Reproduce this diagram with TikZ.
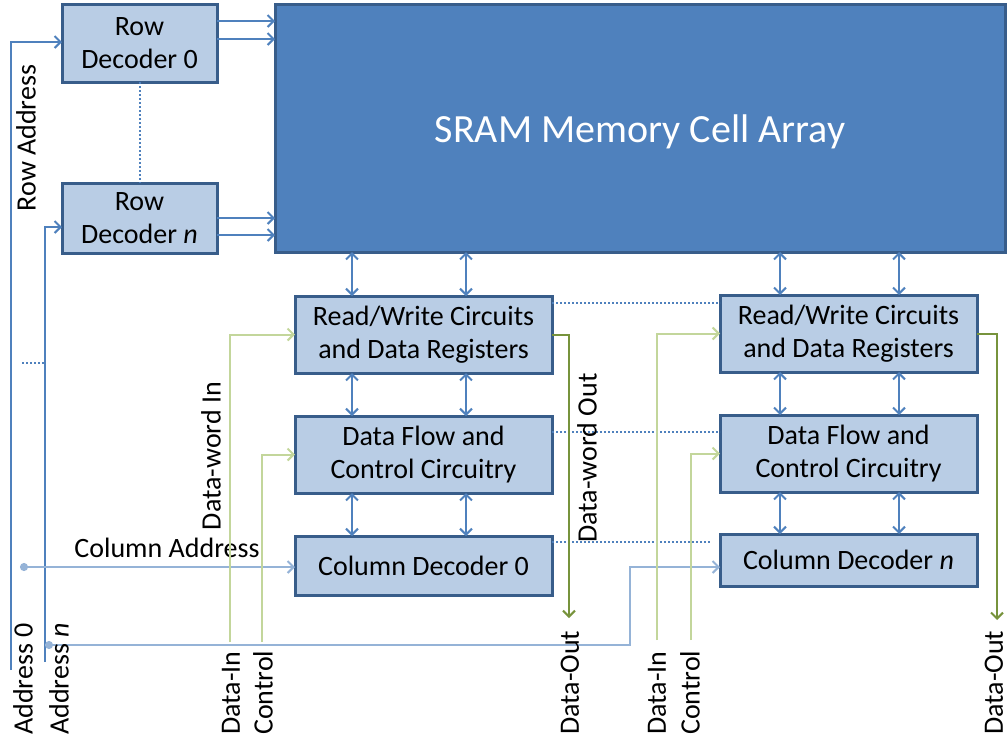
\documentclass[tikz,border=0pt]{standalone}
\usepackage{fontspec}
\setmainfont{Carlito}
\usetikzlibrary{arrows.meta,calc}
\definecolor{cellfill}{HTML}{4F81BD}
\definecolor{boxedge}{HTML}{385D8A}
\definecolor{boxfill}{HTML}{B9CDE5}
\definecolor{busblue}{HTML}{4F81BD}
\definecolor{addrblue}{HTML}{95B3D7}
\definecolor{ingreen}{HTML}{C3D69B}
\definecolor{outgreen}{HTML}{77933C}
\tikzset{
  block/.style={draw=boxedge, fill=boxfill, line width=3pt, inner sep=0pt, outer sep=0pt,
    align=center, text=black, font=\fontsize{28}{33}\selectfont},
  bus/.style={draw=busblue, line width=2pt, {Straight Barb[length=6pt,width=12pt]}-{Straight Barb[length=6pt,width=12pt]}},
  feed/.style={draw=busblue, line width=2pt, -{Straight Barb[length=6pt,width=12pt]}},
  addr/.style={draw=addrblue, line width=2pt, {Circle[length=8pt]}-{Straight Barb[length=6pt,width=12pt]}},
  datain/.style={draw=ingreen, line width=2pt, -{Straight Barb[length=6pt,width=12pt]}},
  dataout/.style={draw=outgreen, line width=2pt, -{Straight Barb[length=6pt,width=12pt]}},
  linkdots/.style={draw=busblue, line width=2pt, dotted},
  lbl/.style={font=\fontsize{28}{33}\selectfont, text=black, inner sep=0pt},
  vlbl/.style={lbl, rotate=90, anchor=west},
}
\begin{document}
\begin{tikzpicture}[x=1pt,y=-1pt]
\useasboundingbox (0,0) rectangle (1008,740);

% memory array and row decoders
\node[block, fill=cellfill, minimum width=730pt, minimum height=248pt,
      font=\fontsize{40}{46}\selectfont, text=white] (sram) at (640,128)
      {\raisebox{-14pt}[0pt][0pt]{SRAM Memory Cell Array}};
\node[block, minimum width=155pt, minimum height=78pt] (rd0) at (139.5,43) {Row\\Decoder 0};
\node[block, minimum width=155pt, minimum height=70pt] (rdn) at (139.5,218) {Row\\Decoder \textit{n}};

% column blocks 0
\node[block, minimum width=257pt, minimum height=77pt] (rw0) at (423.5,334.5) {Read/Write Circuits\\and Data Registers};
\node[block, minimum width=257pt, minimum height=77pt] (df0) at (423.5,454.5) {Data Flow and\\Control Circuitry};
\node[block, minimum width=257pt, minimum height=59pt] (cd0) at (423.5,565.5) {Column Decoder 0};

% column blocks n
\node[block, minimum width=257pt, minimum height=77pt] (rwn) at (848.5,333.5) {Read/Write Circuits\\and Data Registers};
\node[block, minimum width=257pt, minimum height=77pt] (dfn) at (848.5,453.5) {Data Flow and\\Control Circuitry};
\node[block, minimum width=257pt, minimum height=52pt] (cdn) at (848.5,560) {Column Decoder \textit{n}};

% bus columns
\coordinate (b0l) at (352,0);
\coordinate (b0r) at (466,0);
\coordinate (bnl) at (780,0);
\coordinate (bnr) at (899,0);
\foreach \c in {b0l,b0r}{
  \draw[bus] (sram.south -| \c) -- (rw0.north -| \c);
  \draw[bus] (rw0.south -| \c) -- (df0.north -| \c);
  \draw[bus] (df0.south -| \c) -- (cd0.north -| \c);
}
\foreach \c in {bnl,bnr}{
  \draw[bus] (sram.south -| \c) -- (rwn.north -| \c);
  \draw[bus] (rwn.south -| \c) -- (dfn.north -| \c);
  \draw[bus] (dfn.south -| \c) -- (cdn.north -| \c);
}

% word lines into the array
\draw[feed] ($(rd0.east)+(0,-22)$) coordinate (w1) -- (w1 -| sram.west);
\draw[feed] ($(rd0.east)+(0,-4)$) coordinate (w2) -- (w2 -| sram.west);
\draw[feed] (rdn.east) coordinate (w3) -- (w3 -| sram.west);
\draw[feed] ($(rdn.east)+(0,17)$) coordinate (w4) -- (w4 -| sram.west);

% elided blocks
\draw[linkdots] (rd0.south) -- (rdn.north);
\draw[linkdots] ($(rw0.north east)+(0,7)$) -- ($(rwn.north west)+(0,8)$);
\draw[linkdots] ($(df0.north east)+(0,16)$) -- ($(dfn.north west)+(0,17)$);
\draw[linkdots] ($(cd0.north east)+(0,6)$) -- ($(cdn.north west)+(-10,8)$);

% address lines
\coordinate (a0) at (11,670);
\coordinate (an) at (45,662);
\draw[feed] (a0) |- ($(rd0.west)+(0,-1)$);
\draw[feed] (an) |- ($(rdn.west)+(0,9)$);
\coordinate (gapl) at (22,363);
\draw[linkdots] (gapl) -- (gapl -| an);
\node[lbl, rotate=90] (rowaddr) at (26,138) {Row Address};

\coordinate (ca0) at (20,567);
\draw[addr] (ca0) -- (ca0 -| cd0.west);
\node[lbl] (coladdr) at (167,548) {Column Address};
\coordinate (can) at (45,645);
\coordinate (canbend) at (630,645);
\draw[addr] (can) -- (canbend) |- ($(cdn.west)+(0,7)$);

% data in / control
\coordinate (di0) at (230,642);
\coordinate (ct0) at (262,642);
\coordinate (din) at (657,640);
\coordinate (ctn) at (691,640);
\draw[datain] (di0) |- (rw0.west);
\draw[datain] (ct0) |- (df0.west);
\draw[datain] (din) |- (rwn.west);
\draw[datain] (ctn) |- (dfn.west);
\node[lbl, rotate=90] (dwin) at (211,456) {Data-word In};

% data out
\coordinate (do0) at (569,618);
\coordinate (don) at (997,620);
\draw[dataout] (rw0.east) -| (do0);
\draw[dataout] (rwn.east) -| (don);
\node[lbl, rotate=90] (dwout) at (587,458) {Data-word Out};

% pin names
\node[vlbl] (pa0) at (23,735) {Address 0};
\node[vlbl] (pan) at (59,735) {Address \textit{n}};
\node[vlbl] (pdi0) at (231,735) {Data-In};
\node[vlbl] (pct0) at (263,735) {Control};
\node[vlbl] (pdo0) at (570,735) {Data-Out};
\node[vlbl] (pdin) at (657,735) {Data-In};
\node[vlbl] (pctn) at (690,735) {Control};
\node[vlbl] (pdon) at (994,735) {Data-Out};
\end{tikzpicture}
\end{document}
